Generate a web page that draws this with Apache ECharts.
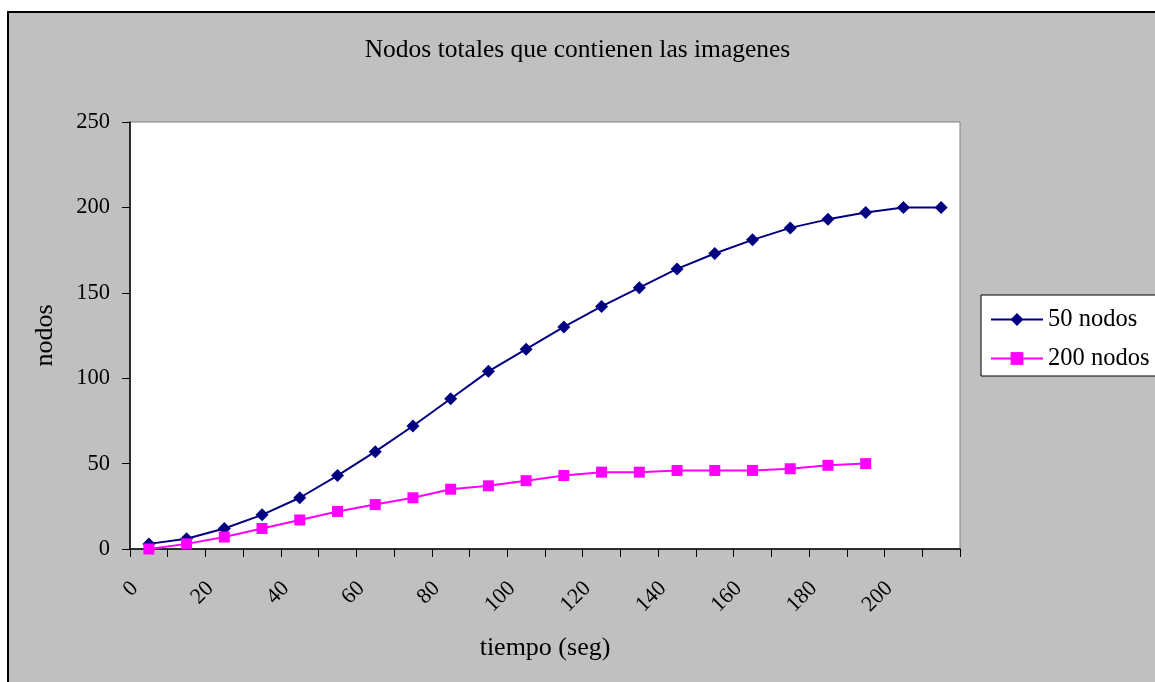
<!DOCTYPE html>
<html>
<head>
<meta charset="utf-8">
<script src="https://cdn.jsdelivr.net/npm/echarts@6/dist/echarts.min.js"></script>
<style>
html,body{margin:0;padding:0;background:#fff;overflow:hidden;}
#bg{position:absolute;left:7px;top:11px;width:1300px;height:800px;background:#c0c0c0;border-left:2px solid #000;border-top:2px solid #000;}
#chart{position:absolute;left:0;top:0;width:1155px;height:682px;}
</style>
</head>
<body>
<div id="bg"></div>
<div id="chart"></div>
<script>
const categories = ['0','10','20','30','40','50','60','70','80','90','100','110','120','130','140','150','160','170','180','190','200','210'];
const nodos50 = [3,6,12,20,30,43,57,72,88,104,117,130,142,153,164,173,181,188,193,197,200,200];
const nodos200 = [0,3,7,12,17,22,26,30,35,37,40,43,45,45,46,46,46,47,49,50];
const yTicks = {min:0, max:250, interval:50};

const font = '"Liberation Serif", "Times New Roman", serif';
const chart = echarts.init(document.getElementById('chart'), null, {renderer:'canvas'});
chart.setOption({
  backgroundColor: 'transparent',
  animation: false,
  title: {
    text: 'Nodos totales que contienen las imagenes',
    left: 'center', top: 32,
    textStyle: {fontFamily: font, fontWeight: 'normal', fontSize: 25.5, color: '#000'}
  },
  legend: {
    orient: 'vertical',
    left: 981, top: 295,
    backgroundColor: '#fff',
    borderColor: '#000', borderWidth: 1,
    padding: [12, 20, 5, 9],
    itemWidth: 52, itemHeight: 16, itemGap: 14,
    textStyle: {fontFamily: font, fontSize: 24.5, color: '#000'},
    data: ['50 nodos', '200 nodos']
  },
  grid: {
    left: 130, right: 195, top: 122, bottom: 133,
    show: true, backgroundColor: '#fff', borderColor: '#808080', borderWidth: 1
  },
  xAxis: {
    type: 'category',
    data: categories,
    boundaryGap: true,
    name: 'tiempo (seg)', nameLocation: 'middle', nameGap: 86,
    nameTextStyle: {fontFamily: font, fontSize: 26, color: '#000', verticalAlign: 'top'},
    axisLine: {lineStyle: {color: '#000', width: 1.5}},
    axisTick: {show: true, interval: 0, length: 8, lineStyle: {color: '#000'}},
    axisLabel: {interval: 1, rotate: 45, margin: 22, padding: [0, 20, 0, 0],
      fontFamily: font, fontSize: 22, color: '#000'},
    splitLine: {show: false}
  },
  yAxis: {
    type: 'value',
    min: yTicks.min, max: yTicks.max, interval: yTicks.interval,
    name: 'nodos', nameLocation: 'middle', nameGap: 72, nameRotate: 90,
    nameTextStyle: {fontFamily: font, fontSize: 26, color: '#000'},
    axisLine: {show: true, lineStyle: {color: '#000', width: 1.5}},
    axisTick: {show: true, length: 8, lineStyle: {color: '#000'}},
    axisLabel: {margin: 20, fontFamily: font, fontSize: 22.5, color: '#000'},
    splitLine: {show: false}
  },
  series: [
    {name: '50 nodos', type: 'line', data: nodos50, symbol: 'diamond', symbolSize: 13,
      itemStyle: {color: '#000080'}, lineStyle: {color: '#000080', width: 2}},
    {name: '200 nodos', type: 'line', data: nodos200, symbol: 'rect', symbolSize: 11,
      itemStyle: {color: '#ff00ff'}, lineStyle: {color: '#ff00ff', width: 2}}
  ]
});
</script>
</body>
</html>
